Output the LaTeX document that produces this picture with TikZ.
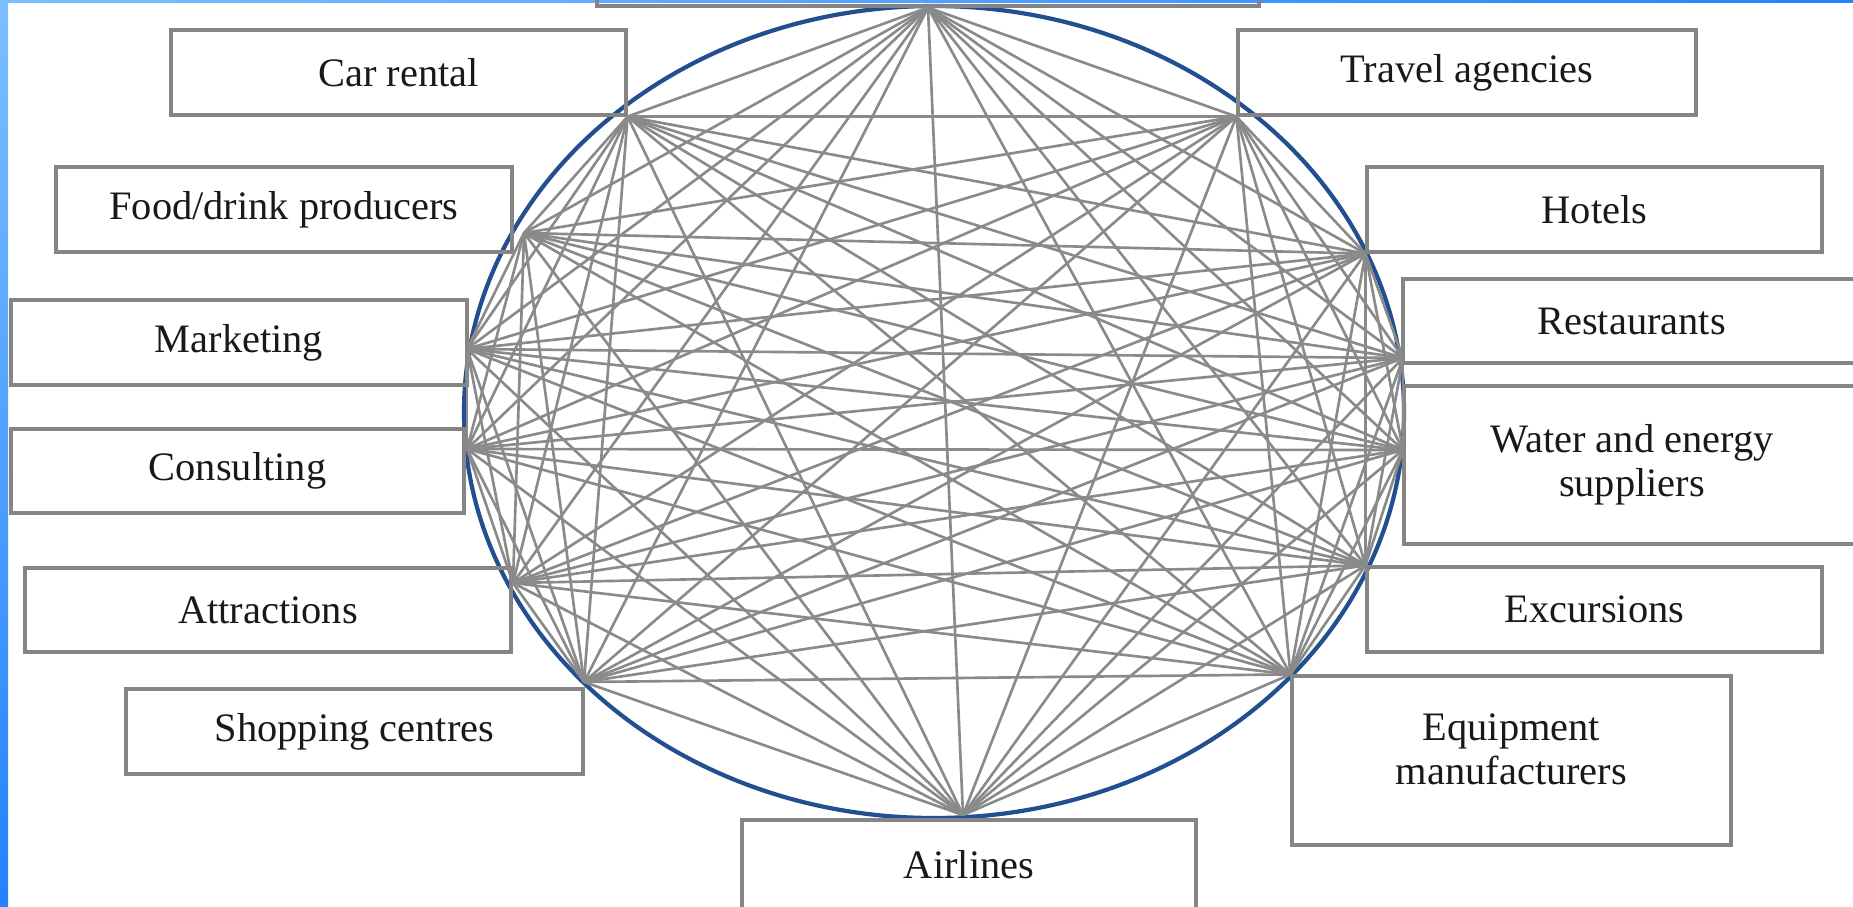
\documentclass[tikz,border=0pt]{standalone}
\usepackage{fontspec}
\setmainfont{Liberation Serif}
\newlength{\du}
\setlength{\du}{1mm}

\begin{document}
\begin{tikzpicture}[yscale=-1,
  box/.style={draw=boxgray, line width=0.9pt, inner sep=0pt, align=center,
    text=textblack, font=\fontsize{11.5}{12.5}\selectfont},
  link/.style={draw=linegray, line width=0.75pt},
  rim/.style={draw=rimblue, line width=1.2pt}]
\definecolor{boxgray}{rgb}{0.520000, 0.520000, 0.520000}
\definecolor{linegray}{rgb}{0.540000, 0.540000, 0.540000}
\definecolor{rimblue}{rgb}{0.130000, 0.310000, 0.560000}
\definecolor{textblack}{rgb}{0.100000, 0.100000, 0.100000}
\definecolor{stripdark}{rgb}{0.140000, 0.510000, 1.000000}
\definecolor{striplight}{rgb}{0.490000, 0.750000, 1.000000}
\useasboundingbox (0\du,0\du) rectangle (185.3\du,90.6\du);
\fill[white] (0\du,0\du) rectangle (185.3\du,90.6\du);
\shade[top color=striplight, bottom color=stripdark] (0\du,0\du) rectangle (0.8\du,90.6\du);
\shade[left color=striplight, right color=stripdark] (0\du,0\du) rectangle (185.3\du,0.25\du);
% the ring
\draw[rim] (93.4\du,41.2\du) ellipse [x radius=47\du, y radius=40.6\du];
% boxes
\node[box, minimum width=66.2\du, minimum height=6.6\du] (top) at (92.8\du,-2.7\du) {};
\node[box, minimum width=45.5\du, minimum height=8.5\du] (car) at (39.85\du,7.25\du) {Car rental};
\node[box, minimum width=45.8\du, minimum height=8.5\du] (travel) at (146.7\du,7.25\du) {Travel agencies};
\node[box, minimum width=45.6\du, minimum height=8.5\du] (food) at (28.4\du,20.95\du) {Food/drink producers};
\node[box, minimum width=45.5\du, minimum height=8.5\du] (hotels) at (159.45\du,20.95\du) {Hotels};
\node[box, minimum width=45.6\du, minimum height=8.5\du] (marketing) at (23.9\du,34.25\du) {Marketing};
\node[box, minimum width=45.7\du, minimum height=8.4\du] (restaurants) at (163.15\du,32.1\du) {Restaurants};
\node[box, minimum width=45.3\du, minimum height=8.4\du] (consulting) at (23.75\du,47.1\du) {Consulting};
\node[box, minimum width=45.6\du, minimum height=15.8\du] (water) at (163.2\du,46.5\du) {Water and energy\\suppliers};
\node[box, minimum width=48.6\du, minimum height=8.4\du] (attractions) at (26.8\du,61.0\du) {Attractions};
\node[box, minimum width=45.5\du, minimum height=8.5\du] (excursions) at (159.45\du,60.95\du) {Excursions};
\node[box, minimum width=45.7\du, minimum height=8.5\du] (shopping) at (35.45\du,73.15\du) {Shopping centres};
\node[box, minimum width=43.9\du, minimum height=16.9\du, text depth=2.2\du] (equipment) at (151.15\du,76.05\du) {Equipment\\manufacturers};
\node[box, minimum width=45.4\du, minimum height=9\du] (airlines) at (96.9\du,86.5\du) {Airlines};
% where the links meet the ring
\coordinate (p0) at (top.south);
\coordinate (p1) at (car.south east);
\coordinate (p2) at (travel.south west);
\coordinate (p3) at (52.4\du,23.3\du);
\coordinate (p4) at (hotels.south west);
\coordinate (p5) at (46.7\du,34.9\du);
\coordinate (p6) at (140.3\du,35.8\du);
\coordinate (p7) at (46.7\du,44.9\du);
\coordinate (p8) at (140.3\du,45.0\du);
\coordinate (p9) at (51.3\du,58.3\du);
\coordinate (p10) at (excursions.north west);
\coordinate (p11) at (58.4\du,68.2\du);
\coordinate (p12) at (equipment.north west);
\coordinate (p13) at (96.3\du,81.5\du);
% every partner linked with every other
\foreach \i in {0,...,12}
{
\pgfmathtruncatemacro{\first}{\i+1}
\foreach \j in {\first,...,13}
\draw[link] (p\i) -- (p\j);
}
\end{tikzpicture}
\end{document}
